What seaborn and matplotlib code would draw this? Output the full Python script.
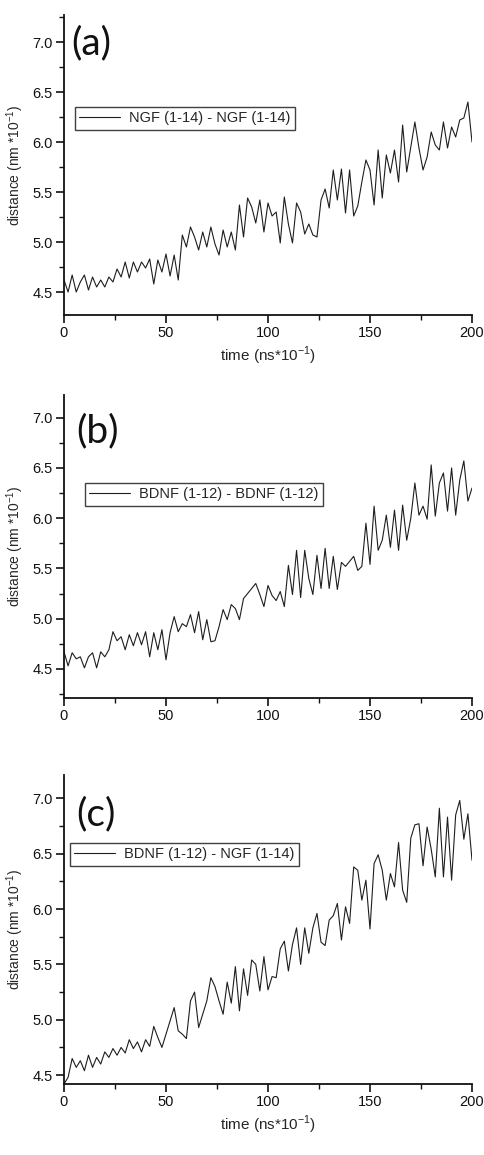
import numpy as np
import pandas as pd
import matplotlib
matplotlib.use("Agg")
import matplotlib.pyplot as plt
import seaborn as sns
from matplotlib.ticker import MultipleLocator

# sampling times (ns*10^-1), every 2 units
time = list(range(0, 201, 2))

# (a) NGF (1-14) - NGF (1-14)
ngf_ngf = [
    4.62, 4.50, 4.67, 4.50, 4.60, 4.67, 4.52, 4.65, 4.55, 4.62,
    4.55, 4.65, 4.60, 4.73, 4.65, 4.80, 4.64, 4.80, 4.70, 4.80,
    4.74, 4.83, 4.58, 4.82, 4.70, 4.88, 4.66, 4.87, 4.62, 5.07,
    4.95, 5.15, 5.05, 4.92, 5.10, 4.95, 5.15, 4.98, 4.87, 5.12,
    4.95, 5.10, 4.92, 5.37, 5.05, 5.44, 5.35, 5.19, 5.42, 5.10,
    5.39, 5.26, 5.30, 4.99, 5.45, 5.18, 4.99, 5.39, 5.30, 5.08,
    5.18, 5.07, 5.05, 5.42, 5.53, 5.34, 5.72, 5.42, 5.73, 5.29,
    5.72, 5.26, 5.36, 5.60, 5.82, 5.72, 5.37, 5.92, 5.44, 5.87,
    5.69, 5.92, 5.60, 6.17, 5.70, 5.95, 6.20, 5.94, 5.72, 5.85,
    6.10, 5.97, 5.92, 6.20, 5.94, 6.15, 6.05, 6.22, 6.24, 6.40,
    6.00,
]

# (b) BDNF (1-12) - BDNF (1-12)
bdnf_bdnf = [
    4.67, 4.53, 4.66, 4.60, 4.62, 4.51, 4.62, 4.66, 4.51, 4.67,
    4.62, 4.69, 4.87, 4.78, 4.82, 4.69, 4.84, 4.73, 4.86, 4.74,
    4.87, 4.62, 4.86, 4.69, 4.89, 4.59, 4.86, 5.02, 4.87, 4.95,
    4.92, 5.04, 4.86, 5.07, 4.79, 4.99, 4.77, 4.78, 4.92, 5.09,
    4.99, 5.14, 5.10, 4.99, 5.20, 5.25, 5.30, 5.35, 5.24, 5.12,
    5.33, 5.23, 5.18, 5.27, 5.12, 5.53, 5.24, 5.68, 5.21, 5.68,
    5.40, 5.24, 5.63, 5.30, 5.70, 5.30, 5.62, 5.29, 5.56, 5.52,
    5.57, 5.62, 5.48, 5.52, 5.95, 5.54, 6.12, 5.68, 5.78, 6.03,
    5.71, 6.08, 5.68, 6.13, 5.78, 6.00, 6.35, 6.03, 6.12, 5.99,
    6.53, 6.02, 6.35, 6.45, 6.07, 6.50, 6.03, 6.38, 6.57, 6.17,
    6.30,
]

# (c) BDNF (1-12) - NGF (1-14)
bdnf_ngf = [
    4.42, 4.48, 4.65, 4.57, 4.63, 4.54, 4.68, 4.57, 4.66, 4.60,
    4.71, 4.66, 4.74, 4.68, 4.75, 4.70, 4.82, 4.74, 4.80, 4.71,
    4.82, 4.76, 4.94, 4.84, 4.75, 4.87, 4.99, 5.11, 4.90, 4.87,
    4.83, 5.17, 5.25, 4.93, 5.05, 5.17, 5.38, 5.30, 5.17, 5.05,
    5.34, 5.15, 5.48, 5.08, 5.46, 5.22, 5.54, 5.50, 5.26, 5.57,
    5.27, 5.39, 5.38, 5.64, 5.71, 5.44, 5.68, 5.83, 5.50, 5.83,
    5.60, 5.83, 5.96, 5.70, 5.67, 5.90, 5.94, 6.05, 5.72, 6.02,
    5.87, 6.38, 6.35, 6.08, 6.26, 5.82, 6.41, 6.49, 6.35, 6.08,
    6.32, 6.20, 6.60, 6.17, 6.06, 6.64, 6.76, 6.77, 6.39, 6.74,
    6.54, 6.29, 6.91, 6.29, 6.83, 6.26, 6.85, 6.98, 6.63, 6.86,
    6.44,
]

panels = [
    ("(a)", "NGF (1-14) - NGF (1-14)", ngf_ngf),
    ("(b)", "BDNF (1-12) - BDNF (1-12)", bdnf_bdnf),
    ("(c)", "BDNF (1-12) - NGF (1-14)", bdnf_ngf),
]

sns.set_style("ticks")
plt.rcParams["font.family"] = ["Liberation Sans", "DejaVu Sans"]
plt.rcParams["mathtext.fontset"] = "custom"
plt.rcParams["mathtext.rm"] = "Liberation Sans"

W, H = 484, 1155
fig = plt.figure(figsize=(W / 100, H / 100), dpi=100)

# axes boxes in pixels: (left, top, right, bottom)
boxes = [(64, 15, 472, 315), (64, 395, 472, 698), (64, 775, 472, 1084)]
ylims = [(4.27, 7.27), (4.21, 7.226), (4.42, 7.21)]
legend_anchor = [(0.027, 0.693), (0.051, 0.71), (0.015, 0.78)]
letter_pos = [(0.018, 0.965), (0.03, 0.94), (0.03, 0.93)]
show_xlabel = [True, False, True]

for i, (letter, name, values) in enumerate(panels):
    l, t, r, b = boxes[i]
    ax = fig.add_axes([l / W, 1 - b / H, (r - l) / W, (b - t) / H])
    df = pd.DataFrame({"time": time, "distance": values})
    sns.lineplot(data=df, x="time", y="distance", ax=ax, color="#1e1e1e",
                 linewidth=0.8, label=name)
    ax.set_xlim(0, 200)
    ax.set_ylim(*ylims[i])
    ax.xaxis.set_major_locator(MultipleLocator(50))
    ax.xaxis.set_minor_locator(MultipleLocator(25))
    ax.yaxis.set_major_locator(MultipleLocator(0.5))
    ax.yaxis.set_minor_locator(MultipleLocator(0.25))
    ax.yaxis.set_major_formatter(matplotlib.ticker.FormatStrFormatter("%.1f"))
    for side in ["top", "right"]:
        ax.spines[side].set_visible(False)
    for side in ["left", "bottom"]:
        ax.spines[side].set_linewidth(1.3)
        ax.spines[side].set_color("#111111")
    ax.tick_params(which="major", direction="out", length=6, width=1.2,
                   labelsize=10.5, colors="#111111", pad=2)
    ax.tick_params(which="minor", direction="out", length=3.5, width=1.0,
                   colors="#111111")
    ax.set_ylabel("distance (nm *10$^{-1}$)", fontsize=10, labelpad=5)
    if show_xlabel[i]:
        ax.set_xlabel("time (ns*10$^{-1}$)", fontsize=11, labelpad=3)
    else:
        ax.set_xlabel("")
    leg = ax.legend(loc="upper left", bbox_to_anchor=legend_anchor[i],
                    fontsize=10.5, frameon=True, fancybox=False,
                    handlelength=2.8, borderpad=0.3, borderaxespad=0,
                    handletextpad=0.6)
    leg.get_frame().set_edgecolor("#111111")
    leg.get_frame().set_linewidth(1.0)
    ax.text(letter_pos[i][0], letter_pos[i][1], letter, transform=ax.transAxes,
            fontsize=28, va="top", ha="left", color="#111111",
            family=["Lato", "DejaVu Sans"])

fig.savefig("out.png", dpi=100)
